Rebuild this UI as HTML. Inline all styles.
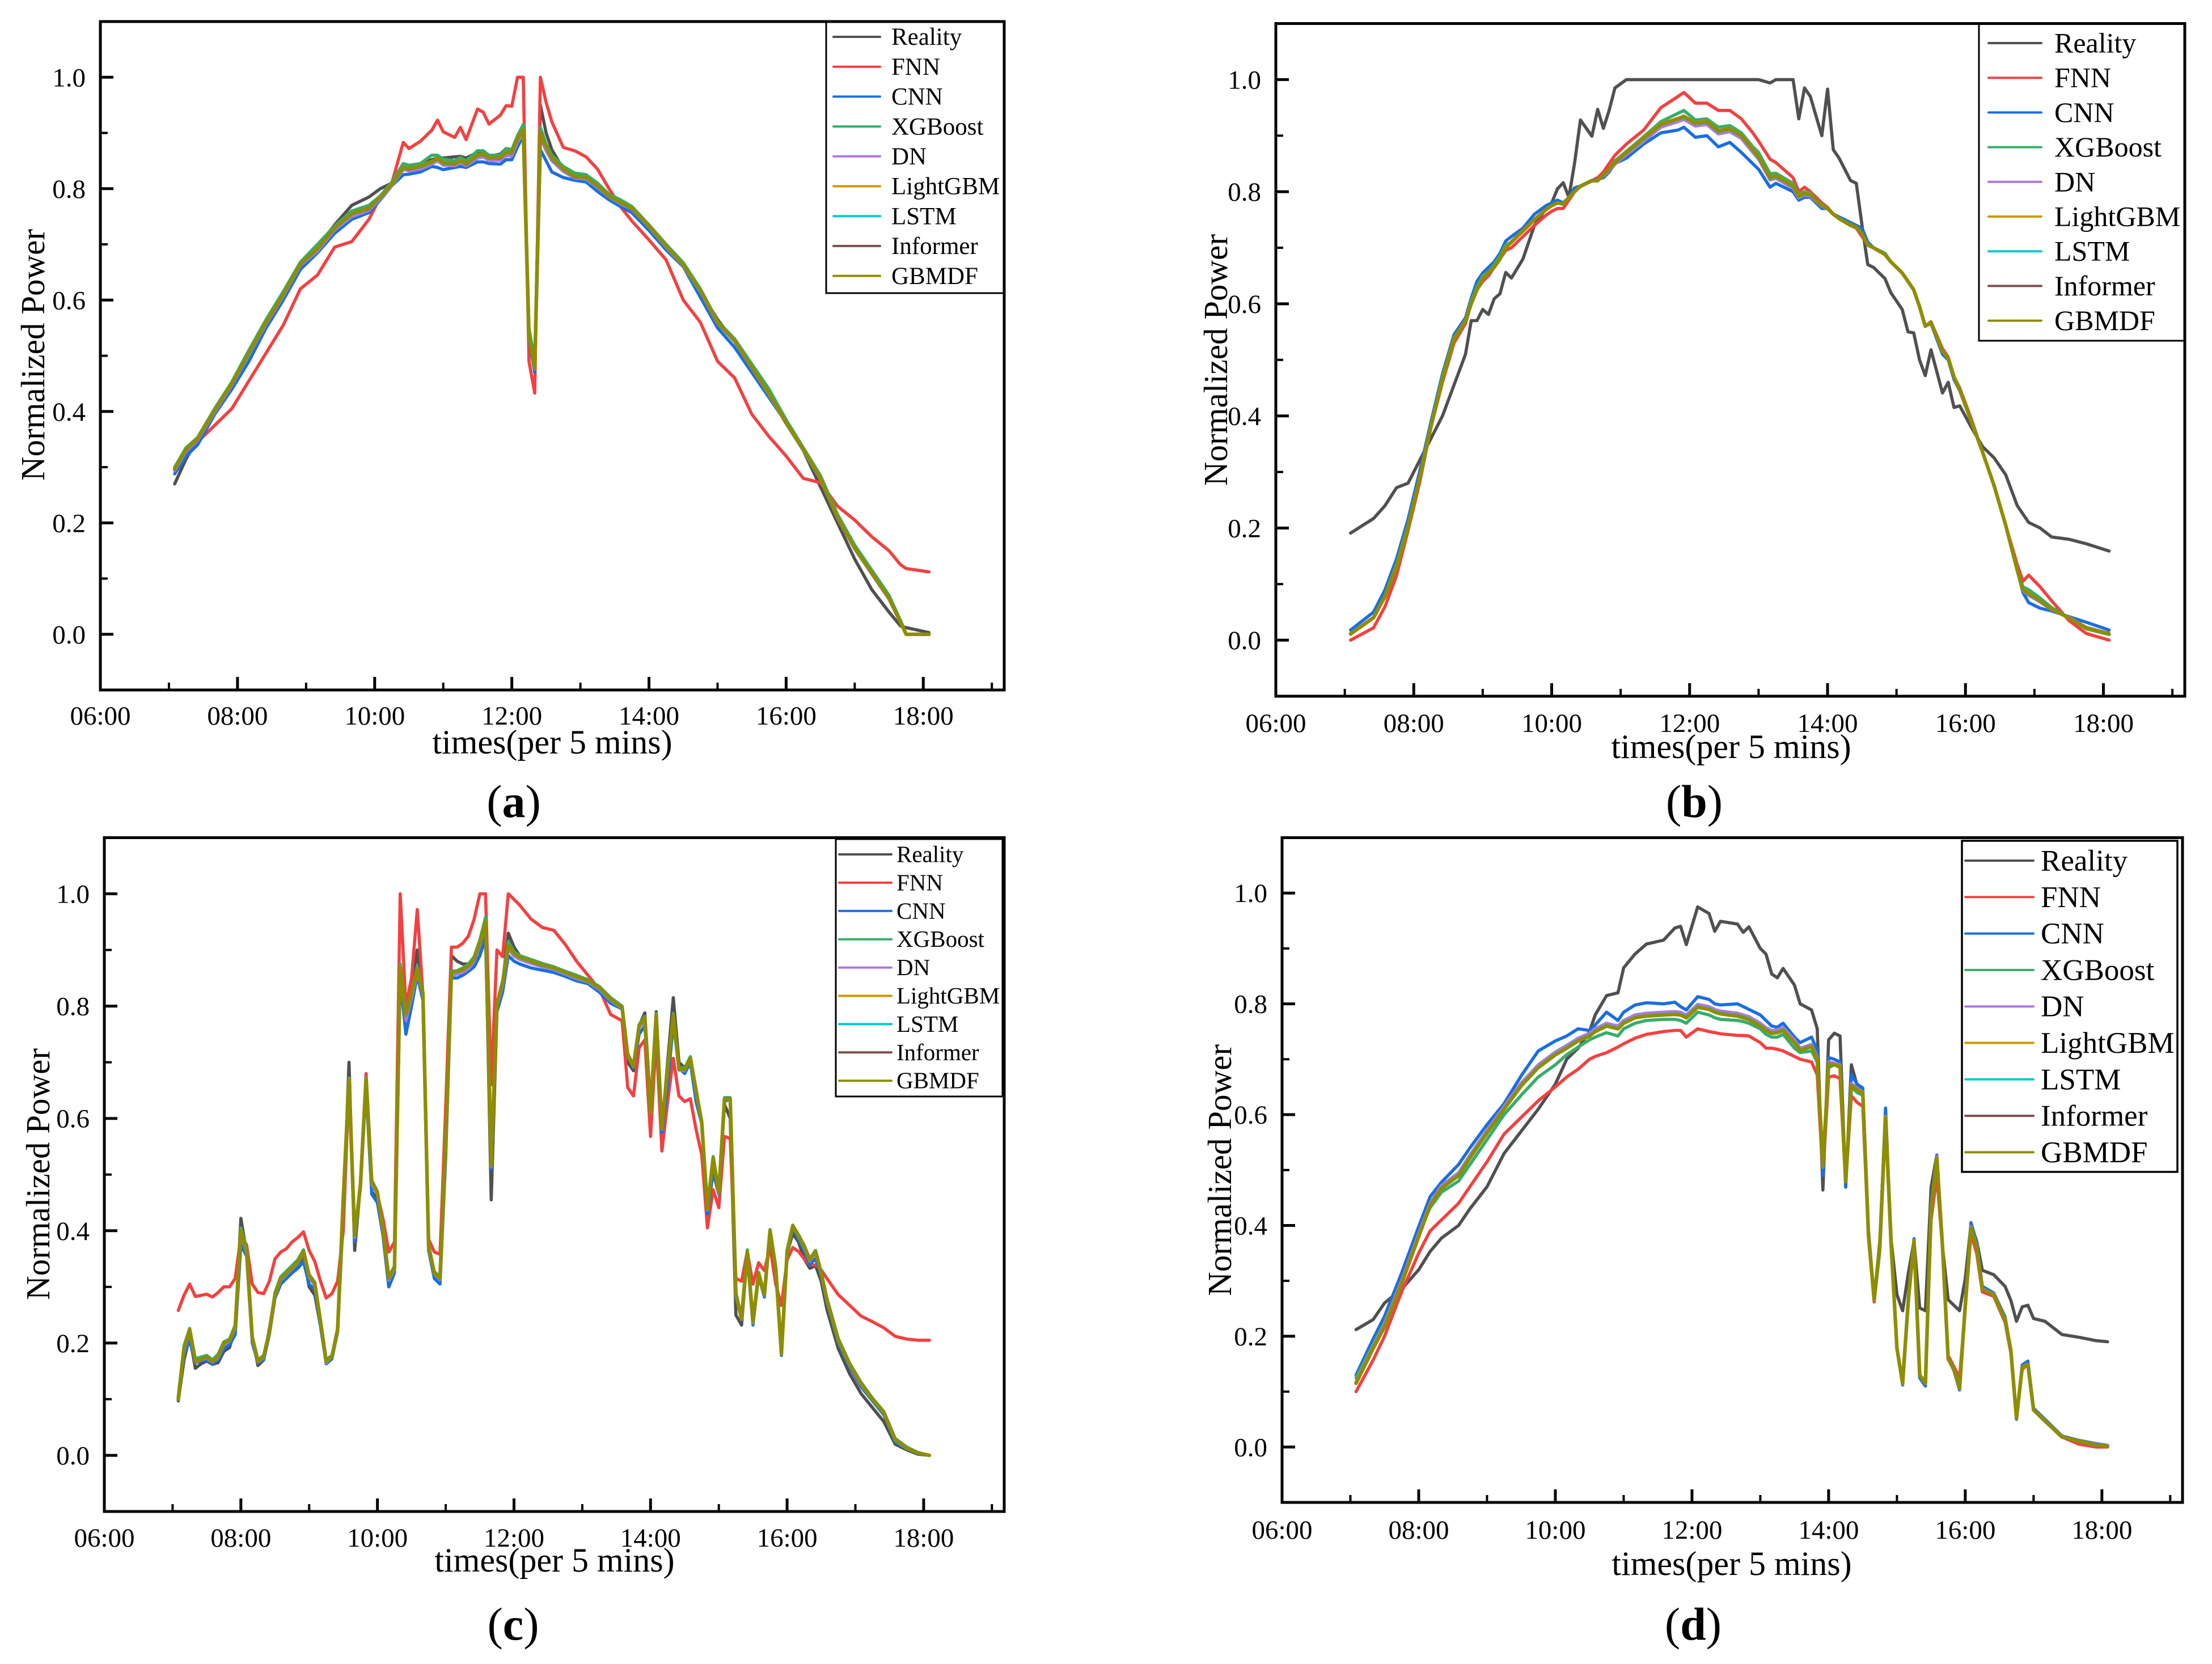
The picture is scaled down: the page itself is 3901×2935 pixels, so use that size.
<!DOCTYPE html>
<html lang="en">
<head>
<meta charset="utf-8">
<title>Normalized Power forecasts</title>
<style>
html,body{margin:0;padding:0;background:#fff;}
svg{display:block;}
text{font-family:"Liberation Serif","Times New Roman",serif;fill:#000;}
</style>
</head>
<body>
<svg id="chart" xmlns="http://www.w3.org/2000/svg" width="3901" height="2935" viewBox="0 0 3901 2935"></svg>
<script>
const seriesNames=["Reality","FNN","CNN","XGBoost","DN","LightGBM","LSTM","Informer","GBMDF"];
const seriesColors=["#505050","#f44040","#1a6fdf","#37ad6b","#b177de","#cc9900","#00cbcc","#7d4e4e","#8e8e00"];
const xTickLabels=["06:00","08:00","10:00","12:00","14:00","16:00","18:00"];
const yTickLabels=["0.0","0.2","0.4","0.6","0.8","1.0"];

// Times are 5-minute slots after 07:05
const slotsA=[0,2,4,7,10,13,16,19,22,25,28,31,34,36,38,40,41,43,45,46,47,49,50,51,53,54,55,57,58,59,60,61,62,63,64,65,66,68,70,72,74,76,78,80,83,86,89,92,95,98,101,104,107,110,113,116,119,122,125,127,128,132];
const realityA=[.27,.315,.35,.40,.45,.505,.56,.61,.665,.695,.735,.77,.785,.80,.81,.835,.835,.845,.852,.855,.855,.857,.858,.855,.865,.865,.858,.862,.872,.87,.89,.91,.53,.48,.95,.90,.87,.835,.825,.82,.80,.785,.77,.762,.73,.69,.66,.615,.565,.525,.48,.43,.38,.33,.265,.20,.135,.08,.04,.015,.012,.003];
const fnnA=[.297,.328,.345,.375,.405,.455,.505,.555,.62,.645,.695,.705,.745,.785,.81,.883,.872,.885,.905,.923,.902,.892,.91,.888,.943,.937,.916,.932,.949,.948,1,1,.49,.433,1,.955,.92,.874,.868,.857,.835,.80,.768,.742,.708,.672,.60,.56,.49,.46,.395,.355,.32,.28,.272,.23,.205,.175,.15,.125,.118,.112];
const cnnA=[.288,.32,.34,.395,.44,.49,.55,.60,.655,.685,.72,.745,.757,.78,.805,.825,.826,.83,.84,.838,.834,.838,.84,.838,.848,.848,.845,.844,.852,.852,.875,.895,.53,.47,.87,.85,.83,.82,.815,.812,.795,.78,.768,.757,.725,.69,.66,.605,.55,.515,.47,.425,.38,.33,.28,.21,.155,.11,.065,.025,0,0];
const xgboostA=[.30,.335,.353,.405,.453,.51,.565,.615,.668,.70,.733,.76,.77,.787,.812,.845,.842,.845,.86,.86,.853,.85,.856,.85,.868,.868,.86,.86,.872,.87,.895,.915,.55,.49,.91,.88,.86,.84,.828,.825,.81,.79,.78,.768,.735,.70,.667,.62,.562,.53,.485,.44,.385,.335,.285,.215,.16,.115,.07,.025,0,0];
const dnA=[.294,.329,.348,.399,.447,.502,.557,.607,.662,.688,.726,.75,.761,.782,.805,.834,.832,.835,.844,.85,.842,.841,.846,.841,.855,.857,.85,.851,.859,.859,.884,.90,.532,.476,.892,.868,.85,.831,.819,.817,.802,.785,.773,.763,.731,.695,.661,.615,.558,.525,.478,.43,.378,.33,.278,.208,.153,.108,.063,.021,0,0];
const lightgbmA=[.298,.332,.352,.402,.451,.505,.561,.61,.665,.693,.73,.756,.765,.785,.809,.839,.836,.841,.849,.855,.847,.845,.851,.845,.861,.862,.856,.856,.866,.865,.891,.906,.536,.479,.90,.876,.855,.836,.822,.82,.806,.787,.776,.765,.733,.698,.663,.617,.561,.527,.48,.433,.38,.332,.281,.21,.156,.11,.065,.022,0,0];
const lstmA=[.297,.331,.351,.401,.45,.504,.56,.609,.664,.691,.729,.754,.764,.784,.807,.837,.835,.839,.847,.854,.845,.844,.849,.844,.859,.861,.854,.855,.864,.864,.889,.904,.534,.478,.899,.874,.854,.834,.821,.819,.804,.786,.774,.764,.732,.696,.662,.616,.56,.526,.479,.431,.379,.331,.279,.209,.154,.109,.064,.022,0,0];
const informerA=[.296,.332,.35,.402,.449,.505,.559,.61,.664,.692,.729,.755,.764,.785,.808,.838,.835,.84,.848,.854,.846,.844,.85,.844,.86,.861,.855,.855,.865,.864,.89,.905,.535,.477,.90,.875,.854,.835,.821,.82,.805,.786,.775,.764,.732,.697,.662,.617,.559,.527,.479,.432,.379,.332,.28,.209,.155,.109,.065,.021,0,0];
const gbmdfA=[.297,.332,.351,.402,.45,.505,.56,.61,.665,.692,.73,.755,.765,.785,.808,.838,.836,.84,.848,.855,.846,.845,.85,.845,.86,.862,.855,.856,.865,.865,.89,.905,.535,.478,.90,.875,.855,.835,.822,.82,.805,.787,.775,.765,.733,.697,.663,.617,.56,.527,.48,.432,.38,.332,.28,.21,.155,.11,.065,.022,0,0];

const slotsB=[0,4,6,8,10,12,14,16,18,20,21,22,23,24,25,26,27,28,30,32,34,35,36,37,38,39,40,42,43,44,45,46,48,51,54,57,58,60,62,64,66,68,70,71,73,74,77,78,79,80,81,82,83,84,85,87,88,89,90,91,93,94,96,97,98,99,100,101,103,104,105,106,108,110,112,114,116,117,118,120,122,125,128,132];
const realityB=[.191,.217,.24,.272,.28,.32,.36,.40,.455,.51,.57,.57,.59,.581,.609,.618,.656,.646,.68,.74,.77,.78,.805,.816,.79,.852,.928,.899,.947,.913,.945,.985,1,1,1,1,1,1,1,1,1,1,1,1,.994,1,1,.93,.985,.97,.935,.90,.983,.875,.86,.82,.815,.74,.67,.665,.645,.62,.59,.55,.548,.50,.472,.518,.441,.46,.415,.418,.38,.345,.325,.295,.24,.225,.21,.20,.184,.18,.172,.159];
const fnnB=[0,.022,.06,.115,.195,.28,.38,.46,.53,.565,.60,.625,.64,.65,.665,.68,.695,.70,.72,.74,.758,.765,.77,.77,.785,.80,.81,.82,.825,.835,.85,.865,.885,.91,.95,.97,.977,.958,.958,.945,.945,.93,.905,.89,.858,.852,.825,.80,.808,.80,.79,.78,.772,.76,.752,.74,.735,.72,.705,.70,.69,.675,.655,.64,.625,.595,.56,.568,.52,.505,.47,.45,.395,.335,.275,.205,.135,.105,.116,.095,.07,.035,.012,0];
const cnnB=[.018,.05,.09,.145,.215,.30,.39,.475,.545,.575,.61,.64,.655,.665,.675,.69,.712,.72,.735,.76,.775,.78,.785,.78,.79,.807,.81,.82,.822,.825,.835,.85,.86,.885,.905,.91,.915,.897,.90,.88,.888,.87,.85,.84,.808,.815,.80,.785,.79,.79,.78,.77,.77,.76,.755,.745,.74,.735,.71,.70,.69,.675,.655,.64,.625,.595,.56,.565,.51,.50,.465,.445,.39,.335,.275,.205,.125,.085,.067,.057,.052,.042,.032,.018];
const xgboostB=[.012,.04,.08,.135,.205,.29,.385,.47,.54,.57,.605,.63,.65,.657,.67,.685,.705,.71,.73,.75,.768,.775,.78,.778,.79,.80,.81,.82,.82,.83,.84,.855,.872,.898,.925,.94,.945,.928,.93,.915,.918,.905,.88,.87,.832,.833,.815,.795,.80,.798,.785,.777,.77,.76,.752,.742,.737,.725,.705,.70,.69,.675,.655,.64,.625,.595,.56,.567,.515,.503,.47,.447,.39,.335,.275,.205,.125,.095,.09,.075,.058,.04,.02,.01];
const dnB=[.012,.041,.079,.132,.202,.29,.383,.466,.538,.571,.601,.626,.646,.656,.666,.681,.70,.711,.731,.751,.769,.775,.78,.778,.789,.80,.809,.819,.819,.828,.837,.849,.866,.89,.915,.925,.929,.917,.92,.903,.907,.895,.87,.858,.821,.824,.806,.789,.794,.792,.783,.774,.769,.76,.752,.74,.737,.725,.705,.70,.688,.675,.655,.64,.625,.595,.56,.567,.515,.503,.47,.447,.39,.335,.275,.205,.125,.088,.08,.068,.054,.041,.023,.012];
const lightgbmB=[.011,.04,.079,.131,.201,.288,.383,.465,.537,.57,.601,.625,.646,.655,.666,.68,.70,.71,.73,.75,.768,.775,.78,.778,.79,.80,.81,.82,.82,.83,.84,.853,.871,.896,.921,.931,.935,.923,.926,.909,.913,.901,.876,.863,.826,.829,.811,.793,.798,.796,.785,.775,.77,.76,.752,.74,.737,.725,.705,.70,.688,.675,.655,.64,.625,.595,.56,.567,.515,.503,.47,.447,.39,.335,.275,.205,.125,.091,.084,.07,.055,.04,.021,.011];
const lstmB=[.012,.04,.078,.13,.20,.289,.382,.465,.537,.57,.60,.625,.645,.655,.665,.68,.70,.71,.73,.75,.768,.775,.78,.778,.79,.80,.81,.82,.82,.83,.84,.852,.869,.894,.92,.93,.933,.921,.924,.907,.911,.899,.874,.861,.824,.827,.809,.791,.796,.794,.785,.775,.77,.76,.752,.74,.737,.725,.705,.70,.688,.675,.655,.64,.625,.595,.56,.567,.515,.503,.47,.447,.39,.335,.275,.205,.125,.09,.082,.07,.055,.04,.022,.011];
const informerB=[.011,.04,.078,.13,.20,.288,.382,.465,.537,.57,.60,.625,.645,.655,.665,.68,.70,.71,.73,.75,.768,.775,.78,.778,.79,.80,.81,.82,.82,.83,.84,.852,.87,.895,.92,.93,.934,.922,.925,.908,.912,.90,.875,.862,.825,.828,.81,.792,.797,.795,.785,.775,.77,.76,.752,.74,.737,.725,.705,.70,.688,.675,.655,.64,.625,.595,.56,.567,.515,.503,.47,.447,.39,.335,.275,.205,.125,.09,.083,.07,.055,.04,.022,.012];
const gbmdfB=[.011,.04,.078,.13,.20,.288,.382,.465,.537,.57,.60,.625,.645,.655,.665,.68,.70,.71,.73,.75,.768,.775,.78,.778,.79,.80,.81,.82,.82,.83,.84,.852,.87,.895,.92,.93,.934,.922,.925,.908,.912,.90,.875,.862,.825,.828,.81,.792,.797,.795,.785,.775,.77,.76,.752,.74,.737,.725,.705,.70,.688,.675,.655,.64,.625,.595,.56,.567,.515,.503,.47,.447,.39,.335,.275,.205,.125,.09,.083,.07,.055,.04,.022,.011];

const slotsC=[0,1,2,3,4,5,6,7,8,9,10,11,12,13,14,15,16,17,18,19,20,21,22,23,24,25,26,27,28,29,30,31,32,33,34,35,36,37,38,39,40,41,42,43,44,45,46,47,48,49,50,51,52,53,54,55,56,57,58,59,60,62,64,66,68,70,72,74,76,78,79,80,81,82,83,84,85,86,87,88,89,90,91,92,93,94,95,96,97,98,99,100,101,102,103,104,105,106,107,108,109,110,111,112,113,114,116,118,120,122,124,126,128,130,132];
const realityC=[.097,.17,.212,.155,.163,.168,.162,.165,.185,.192,.225,.422,.36,.21,.16,.17,.225,.285,.305,.32,.33,.34,.355,.30,.285,.23,.165,.175,.22,.43,.70,.365,.48,.665,.47,.455,.39,.30,.33,.87,.78,.83,.90,.81,.37,.32,.322,.58,.89,.88,.875,.875,.875,.89,.94,.455,.79,.84,.93,.905,.89,.882,.875,.87,.86,.852,.845,.83,.81,.80,.70,.685,.765,.788,.62,.79,.58,.70,.815,.70,.69,.70,.64,.59,.43,.505,.465,.625,.60,.25,.232,.36,.235,.32,.285,.40,.335,.178,.36,.395,.38,.35,.333,.338,.31,.26,.19,.145,.11,.085,.06,.02,.01,.002,0];
const fnnC=[.258,.285,.305,.283,.285,.287,.282,.29,.30,.30,.315,.39,.375,.305,.29,.288,.31,.35,.362,.368,.38,.388,.398,.365,.345,.31,.28,.288,.31,.40,.665,.39,.485,.68,.49,.465,.42,.362,.38,1,.80,.85,.972,.82,.385,.362,.358,.62,.905,.905,.912,.925,.955,1,1,.66,.90,.888,1,.99,.98,.955,.94,.935,.91,.88,.855,.83,.785,.774,.655,.64,.726,.74,.568,.745,.542,.63,.707,.64,.63,.635,.58,.535,.405,.473,.441,.568,.564,.315,.31,.363,.305,.343,.329,.372,.305,.267,.348,.37,.363,.35,.339,.339,.33,.315,.286,.267,.248,.238,.227,.212,.207,.205,.205];
const cnnC=[.10,.18,.205,.165,.168,.17,.163,.17,.19,.197,.215,.375,.355,.20,.165,.17,.215,.28,.305,.315,.325,.333,.345,.305,.295,.23,.163,.172,.22,.45,.66,.38,.48,.655,.465,.45,.39,.30,.325,.85,.75,.80,.855,.81,.365,.315,.305,.53,.85,.85,.855,.862,.87,.89,.92,.51,.79,.825,.89,.88,.875,.868,.864,.86,.853,.845,.84,.825,.805,.795,.71,.69,.75,.765,.62,.77,.575,.66,.77,.69,.68,.70,.63,.59,.43,.51,.465,.63,.635,.28,.25,.355,.232,.32,.282,.395,.33,.178,.36,.405,.385,.365,.34,.35,.32,.272,.20,.157,.122,.097,.072,.024,.012,.003,0];
const xgboostC=[.105,.195,.226,.172,.175,.178,.17,.18,.202,.207,.232,.405,.368,.212,.17,.178,.222,.29,.318,.328,.338,.348,.366,.322,.308,.24,.17,.178,.226,.46,.672,.395,.48,.672,.49,.47,.402,.318,.337,.875,.788,.825,.87,.825,.375,.327,.318,.56,.862,.863,.868,.875,.888,.918,.958,.52,.805,.845,.915,.897,.89,.883,.876,.87,.862,.855,.847,.835,.815,.80,.715,.695,.767,.782,.612,.787,.585,.69,.787,.69,.69,.71,.65,.595,.442,.532,.47,.637,.637,.29,.246,.366,.24,.326,.288,.402,.337,.184,.366,.41,.393,.374,.35,.365,.326,.28,.208,.164,.13,.102,.078,.03,.015,.005,0];
const dnC=[.10,.187,.22,.166,.17,.173,.166,.174,.197,.203,.226,.395,.36,.207,.166,.174,.218,.284,.312,.322,.332,.342,.36,.317,.303,.236,.165,.175,.222,.455,.665,.388,.478,.665,.483,.465,.397,.312,.331,.865,.775,.815,.86,.82,.37,.322,.313,.55,.855,.857,.86,.867,.88,.908,.945,.514,.80,.837,.902,.889,.883,.876,.87,.865,.857,.849,.843,.83,.81,.796,.711,.692,.762,.775,.61,.78,.581,.685,.78,.686,.685,.705,.645,.591,.437,.526,.467,.634,.635,.284,.242,.361,.236,.323,.285,.399,.333,.18,.362,.408,.39,.37,.346,.36,.323,.276,.204,.16,.126,.099,.075,.027,.013,.004,0];
const lightgbmC=[.101,.19,.224,.168,.171,.175,.168,.176,.20,.205,.229,.401,.364,.21,.167,.176,.22,.286,.315,.325,.335,.344,.363,.32,.305,.238,.167,.176,.224,.458,.67,.391,.478,.67,.487,.468,.40,.315,.334,.871,.785,.822,.866,.822,.372,.324,.315,.555,.86,.862,.865,.872,.885,.914,.951,.517,.803,.841,.909,.894,.887,.88,.873,.868,.86,.852,.845,.833,.812,.798,.712,.693,.765,.779,.61,.784,.583,.688,.785,.688,.687,.707,.65,.592,.439,.53,.468,.635,.635,.286,.243,.363,.238,.324,.286,.40,.334,.181,.363,.409,.391,.372,.348,.363,.324,.277,.205,.162,.128,.10,.076,.028,.013,.004,0];
const lstmC=[.10,.189,.223,.167,.171,.174,.167,.175,.199,.204,.228,.399,.362,.209,.167,.175,.219,.285,.314,.323,.333,.343,.362,.319,.304,.237,.166,.175,.223,.457,.668,.39,.477,.668,.486,.467,.399,.314,.333,.869,.783,.821,.864,.821,.371,.323,.314,.553,.859,.861,.864,.871,.883,.912,.949,.515,.802,.84,.907,.893,.886,.879,.872,.867,.859,.851,.844,.832,.811,.797,.711,.692,.764,.778,.609,.783,.582,.687,.783,.687,.686,.706,.649,.591,.438,.529,.467,.634,.634,.285,.242,.362,.237,.323,.285,.399,.333,.18,.362,.408,.39,.371,.347,.362,.323,.276,.204,.161,.127,.099,.075,.027,.012,.004,0];
const informerC=[.10,.19,.224,.167,.171,.175,.167,.176,.20,.205,.229,.40,.363,.21,.167,.176,.219,.286,.315,.324,.334,.344,.363,.32,.305,.238,.167,.176,.224,.458,.669,.391,.478,.669,.487,.468,.40,.315,.334,.87,.784,.822,.865,.822,.372,.324,.315,.554,.86,.862,.865,.872,.884,.913,.95,.516,.803,.841,.908,.894,.887,.88,.873,.868,.86,.852,.845,.833,.812,.798,.712,.693,.765,.779,.61,.784,.583,.688,.784,.688,.687,.707,.65,.592,.439,.53,.468,.635,.635,.286,.243,.363,.238,.324,.286,.40,.334,.181,.363,.409,.391,.372,.348,.363,.324,.277,.205,.162,.128,.10,.076,.028,.013,.004,0];
const gbmdfC=[.10,.19,.224,.167,.171,.175,.167,.176,.20,.205,.229,.40,.363,.21,.167,.176,.219,.286,.315,.324,.334,.344,.363,.32,.305,.238,.167,.176,.224,.458,.669,.391,.478,.669,.487,.468,.40,.315,.334,.87,.784,.822,.865,.822,.372,.324,.315,.554,.86,.862,.865,.872,.884,.913,.95,.516,.803,.841,.908,.894,.887,.88,.873,.868,.86,.852,.845,.833,.812,.798,.712,.693,.765,.779,.61,.784,.583,.688,.784,.688,.687,.707,.65,.592,.439,.53,.468,.635,.635,.286,.243,.363,.238,.324,.286,.40,.334,.181,.363,.409,.391,.372,.348,.363,.324,.277,.205,.162,.128,.10,.076,.028,.013,.004,0];

const slotsD=[0,3,5,8,11,13,15,18,20,23,26,29,32,35,37,39,41,42,44,46,47,49,51,54,56,57,58,60,62,63,64,67,68,69,71,72,73,74,75,77,78,80,81,82,83,84,85,86,87,88,89,90,91,92,93,94,95,96,97,98,99,100,101,102,103,104,105,106,107,108,109,110,112,114,115,116,117,118,119,121,124,127,130,132];
const realityD=[.212,.23,.26,.285,.32,.353,.377,.40,.43,.47,.53,.57,.61,.655,.70,.72,.75,.78,.815,.82,.865,.89,.908,.915,.937,.94,.907,.975,.963,.931,.949,.944,.929,.939,.90,.89,.854,.847,.864,.834,.80,.789,.755,.464,.735,.747,.742,.469,.69,.653,.643,.391,.266,.372,.605,.372,.275,.246,.314,.372,.251,.246,.469,.527,.362,.266,.256,.246,.304,.401,.372,.319,.311,.29,.265,.227,.253,.256,.232,.227,.203,.198,.192,.19];
const fnnD=[.10,.157,.20,.28,.35,.39,.41,.44,.47,.515,.565,.595,.625,.65,.668,.682,.70,.705,.712,.722,.728,.738,.745,.75,.752,.752,.74,.755,.75,.748,.746,.743,.743,.742,.73,.72,.72,.718,.715,.705,.70,.695,.672,.49,.668,.67,.665,.475,.634,.622,.615,.378,.262,.355,.59,.36,.18,.115,.265,.37,.13,.118,.41,.49,.36,.165,.145,.125,.25,.385,.35,.28,.272,.225,.17,.055,.14,.15,.068,.05,.018,.005,0,0];
const cnnD=[.13,.195,.236,.314,.398,.452,.478,.51,.54,.582,.62,.67,.715,.733,.742,.755,.752,.762,.785,.77,.785,.798,.802,.80,.803,.795,.789,.813,.808,.80,.798,.80,.795,.79,.78,.77,.76,.758,.765,.74,.73,.74,.716,.49,.703,.70,.695,.47,.672,.655,.648,.385,.268,.365,.612,.36,.18,.112,.27,.376,.125,.11,.44,.527,.365,.16,.138,.103,.26,.405,.37,.29,.278,.235,.175,.05,.148,.155,.07,.05,.02,.012,.006,.003];
const xgboostD=[.125,.185,.225,.30,.385,.432,.46,.48,.51,.555,.60,.635,.668,.69,.708,.722,.735,.74,.748,.742,.755,.765,.77,.772,.772,.77,.765,.785,.78,.775,.772,.77,.768,.765,.755,.745,.74,.74,.745,.72,.712,.715,.695,.505,.685,.69,.685,.48,.65,.64,.635,.38,.265,.36,.595,.36,.178,.115,.265,.37,.13,.115,.425,.52,.36,.16,.14,.108,.255,.395,.36,.285,.275,.232,.175,.052,.145,.15,.067,.047,.018,.01,.003,.001];
const dnD=[.118,.182,.222,.30,.385,.44,.472,.495,.527,.572,.615,.657,.69,.713,.725,.738,.747,.755,.765,.76,.77,.78,.783,.785,.786,.785,.78,.799,.795,.79,.787,.783,.78,.777,.765,.757,.752,.753,.757,.735,.72,.727,.704,.51,.695,.693,.69,.48,.656,.648,.641,.383,.266,.363,.597,.362,.178,.114,.267,.373,.13,.114,.432,.524,.363,.159,.14,.105,.257,.398,.364,.286,.276,.231,.175,.052,.145,.15,.068,.048,.019,.011,.005,.002];
const lightgbmD=[.115,.178,.217,.295,.381,.436,.468,.49,.523,.567,.61,.653,.685,.708,.721,.733,.743,.75,.76,.756,.765,.775,.778,.78,.782,.78,.775,.795,.79,.785,.782,.778,.775,.772,.76,.752,.747,.748,.752,.73,.716,.723,.70,.508,.692,.69,.687,.479,.653,.645,.639,.382,.266,.362,.596,.362,.178,.115,.266,.372,.13,.115,.43,.522,.362,.159,.14,.106,.256,.396,.362,.285,.275,.23,.175,.052,.144,.149,.067,.047,.018,.011,.004,.001];
const lstmD=[.116,.179,.218,.296,.381,.437,.468,.491,.523,.568,.611,.653,.686,.709,.721,.734,.743,.751,.761,.756,.766,.776,.779,.781,.782,.781,.776,.795,.791,.786,.783,.779,.776,.773,.761,.753,.748,.749,.753,.731,.717,.724,.701,.508,.692,.69,.687,.479,.653,.645,.639,.382,.266,.362,.595,.362,.178,.115,.266,.372,.13,.115,.43,.522,.362,.159,.14,.106,.256,.396,.362,.285,.275,.23,.175,.052,.144,.149,.067,.047,.018,.011,.004,.001];
const informerD=[.115,.178,.217,.295,.38,.436,.467,.49,.522,.567,.61,.652,.685,.708,.72,.733,.742,.75,.76,.755,.765,.775,.778,.78,.781,.78,.775,.794,.79,.785,.782,.778,.775,.772,.76,.752,.747,.748,.752,.73,.716,.723,.70,.508,.692,.69,.687,.479,.653,.645,.639,.382,.266,.362,.595,.362,.178,.115,.266,.372,.13,.115,.43,.522,.362,.159,.14,.106,.256,.396,.362,.285,.275,.23,.175,.052,.144,.149,.067,.047,.018,.011,.004,.001];
const gbmdfD=[.115,.178,.217,.295,.38,.436,.467,.49,.522,.567,.61,.652,.685,.708,.72,.733,.742,.75,.76,.755,.765,.775,.778,.78,.781,.78,.775,.794,.79,.785,.782,.778,.775,.772,.76,.752,.747,.748,.752,.73,.716,.723,.70,.508,.692,.69,.687,.479,.653,.645,.639,.382,.266,.362,.595,.362,.178,.115,.266,.372,.13,.115,.43,.522,.362,.159,.14,.106,.256,.396,.362,.285,.275,.23,.175,.052,.144,.149,.067,.047,.018,.011,.004,.001];

const SVG_NS="http://www.w3.org/2000/svg";
const root=document.getElementById("chart");
function make(tag,parent,attrs,txt){
  const n=document.createElementNS(SVG_NS,tag);
  for(const k in attrs){n.setAttribute(k,attrs[k]);}
  if(txt!==undefined){n.textContent=txt;}
  parent.appendChild(n);
  return n;
}
function drawPanel(p){
  const g=make("g",root,{});
  
  
  const HMIN=6,HMAX=19.18,VMIN=-0.1,VMAX=1.1;
  const xOf=h=>p.left+(h-HMIN)*(p.right-p.left)/(HMAX-HMIN);
  const yOf=v=>p.bottom-(v-VMIN)*(p.bottom-p.top)/(VMAX-VMIN);
  const slotHour=s=>7+5/60+s/12;

  p.series.forEach((vals,si)=>{
    const pts=[];
    vals.forEach((v,k)=>{ if(k<p.slots.length){pts.push(xOf(slotHour(p.slots[k])).toFixed(1)+","+yOf(v).toFixed(1));} });
    const w=si===8?p.lw+0.8:p.lw;
    const line=make("polyline",g,{points:pts.join(" "),fill:"none",stroke:seriesColors[si],"stroke-width":w,"stroke-linejoin":"round","stroke-linecap":"round"});
    
    
  });

  const frame=make("rect",g,{x:p.left,y:p.top,width:p.right-p.left,height:p.bottom-p.top,fill:"none",stroke:"#000","stroke-width":5});
  
  

  xTickLabels.forEach((lab,i)=>{
    const x=xOf(6+2*i);
    const t=make("line",g,{x1:x,x2:x,y1:p.bottom,y2:p.bottom-23,stroke:"#000","stroke-width":5});
    
    
    const m=make("line",g,{x1:x+(xOf(7)-xOf(6)),x2:x+(xOf(7)-xOf(6)),y1:p.bottom,y2:p.bottom-13,stroke:"#000","stroke-width":4});
    
    
    const l=make("text",g,{x:x,y:p.tickBase,"font-size":47,"text-anchor":"middle"},lab);
    
    
  });
  yTickLabels.forEach((lab,i)=>{
    const v=parseFloat(lab);
    const y=yOf(v);
    const t=make("line",g,{x1:p.left,x2:p.left+23,y1:y,y2:y,stroke:"#000","stroke-width":5});
    
    
    const l=make("text",g,{x:p.left-26,y:y+16,"font-size":47,"text-anchor":"end"},lab);
    
    
    if(i<yTickLabels.length){
      const ym=yOf(v+0.1);
      const m=make("line",g,{x1:p.left,x2:p.left+13,y1:ym,y2:ym,stroke:"#000","stroke-width":4});
      
      
    }
  });

  const xt=make("text",g,{x:p.titleX,y:p.titleBase,"font-size":60,"text-anchor":"middle"},"times(per 5 mins)");
  
  
  const yt=make("text",g,{x:p.yTitleX,y:p.yTitleY,"font-size":59,"text-anchor":"middle",transform:"rotate(-90 "+p.yTitleX+" "+p.yTitleY+")"},"Normalized Power");
  
  

  const lg=make("g",g,{});
  
  
  const box=make("rect",lg,{x:p.lg.x,y:p.lg.y,width:p.lg.r-p.lg.x,height:p.lg.b-p.lg.y,fill:"#fff",stroke:"#000","stroke-width":p.lg.bw});
  
  
  seriesNames.forEach((nm,i)=>{
    const y=p.lg.y0+i*p.lg.dy;
    const s=make("line",lg,{x1:p.lg.lx0,x2:p.lg.lx1,y1:y,y2:y,stroke:seriesColors[i],"stroke-width":p.lg.lw,"stroke-linecap":"round"});
    
    
    const t=make("text",lg,{x:p.lg.tx,y:y+p.lg.fs*0.33,"font-size":p.lg.fs},nm);
    
    
  });
  // re-stroke the plot frame above the legend box
  const edge=make("rect",g,{x:p.left,y:p.top,width:p.right-p.left,height:p.bottom-p.top,fill:"none",stroke:"#000","stroke-width":5});
  
  

  const cap=make("text",g,{x:p.capX,y:p.capBase,"font-size":82,"text-anchor":"middle"});
  
  
  make("tspan",cap,{},"(");
  make("tspan",cap,{"font-weight":"bold"},p.id);
  make("tspan",cap,{},")");
}
drawPanel({id:"a",slots:slotsA,series:[realityA,fnnA,cnnA,xgboostA,dnA,lightgbmA,lstmA,informerA,gbmdfA],
  left:177,right:1771,top:38,bottom:1217,lw:5.6,tickBase:1278,titleX:974,titleBase:1329,yTitleX:78,yTitleY:626,capX:906,capBase:1441,
  lg:{x:1457,y:38,r:1771,b:517,bw:3,lx0:1470,lx1:1552,y0:65,dy:52.7,tx:1572,fs:43,lw:4}});
drawPanel({id:"b",slots:slotsB,series:[realityB,fnnB,cnnB,xgboostB,dnB,lightgbmB,lstmB,informerB,gbmdfB],
  left:2250,right:3853,top:41.5,bottom:1228,lw:5.6,tickBase:1291,titleX:3053,titleBase:1337,yTitleX:2164,yTitleY:635,capX:2988,capBase:1441,
  lg:{x:3490,y:41.5,r:3853,b:601,bw:3,lx0:3507,lx1:3600,y0:76,dy:61.2,tx:3623,fs:50,lw:4}});
drawPanel({id:"c",slots:slotsC,series:[realityC,fnnC,cnnC,xgboostC,dnC,lightgbmC,lstmC,informerC,gbmdfC],
  left:184,right:1771,top:1477.5,bottom:2666,lw:5.6,tickBase:2728,titleX:978,titleBase:2772,yTitleX:87,yTitleY:2071,capX:905,capBase:2892,
  lg:{x:1474,y:1480,r:1768,b:1934,bw:3,lx0:1480,lx1:1572,y0:1507,dy:49.9,tx:1581,fs:41,lw:4}});
drawPanel({id:"d",slots:slotsD,series:[realityD,fnnD,cnnD,xgboostD,dnD,lightgbmD,lstmD,informerD,gbmdfD],
  left:2261,right:3849,top:1477.5,bottom:2650,lw:5.6,tickBase:2714,titleX:3054,titleBase:2778,yTitleX:2171,yTitleY:2064,capX:2986,capBase:2892,
  lg:{x:3460,y:1483,r:3840,b:2067,bw:3.5,lx0:3466,lx1:3586,y0:1518,dy:64.3,tx:3599,fs:53,lw:4}});
</script>
</body>
</html>
